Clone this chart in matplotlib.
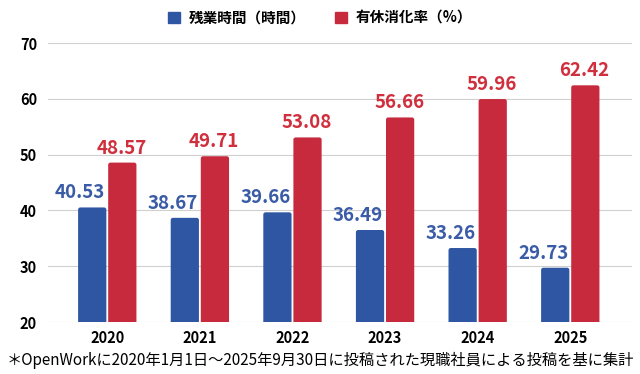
import numpy as np
import matplotlib.pyplot as plt
from matplotlib.patches import Patch, FancyBboxPatch

plt.rcParams['font.family'] = ['Noto Sans CJK JP', 'DejaVu Sans']

years = ['2020', '2021', '2022', '2023', '2024', '2025']
overtime = [40.53, 38.67, 39.66, 36.49, 33.26, 29.73]
paid_leave = [48.57, 49.71, 53.08, 56.66, 59.96, 62.42]
series_names = ['残業時間（時間）', '有休消化率（%）']
note = '＊OpenWorkに2020年1月1日〜2025年9月30日に投稿された現職社員による投稿を基に集計'

blue = '#2f56a3'
red = '#c72a3d'

fig = plt.figure(figsize=(6.4, 3.74), dpi=100)
ax = fig.add_axes([0.075, 0.139, 0.913, 0.746])

x = np.arange(len(years))
w = 0.305
bars = []
bars += list(ax.bar(x - w / 2 - 0.01, overtime, w, color=blue))
bars += list(ax.bar(x + w / 2 + 0.01, paid_leave, w, color=red))

# swap the plain rectangles for slightly rounded ones
for r in bars:
    fb = FancyBboxPatch((r.get_x(), r.get_y()), r.get_width(), r.get_height(),
                        boxstyle='round,pad=0,rounding_size=0.025',
                        mutation_aspect=16, facecolor=r.get_facecolor(),
                        edgecolor='none')
    r.remove()
    ax.add_patch(fb)

for xi, v in zip(x, overtime):
    ax.text(xi - w / 2 - 0.14, v + 0.9, f'{v:.2f}', ha='center', va='bottom',
            color='#3a5ca6', fontsize=13.5, fontweight='bold')
for xi, v in zip(x, paid_leave):
    ax.text(xi + w / 2, v + 0.9, f'{v:.2f}', ha='center', va='bottom',
            color='#d0303e', fontsize=13.5, fontweight='bold')

ax.set_ylim(20, 70)
ax.set_xlim(-0.64, 5.67)
ax.set_yticks(range(20, 71, 10))
ax.set_xticks(x)
ax.set_xticklabels(years, fontweight='bold', fontsize=10.5)
ax.tick_params(axis='y', labelsize=10.5, length=0, pad=8)
ax.tick_params(axis='x', length=0, pad=6)
for lab in ax.get_yticklabels():
    lab.set_fontweight('bold')
ax.grid(axis='y', color='#d0d0d0', linewidth=0.8)
ax.set_axisbelow(True)
for s in ax.spines.values():
    s.set_visible(False)

handles = [Patch(color=blue), Patch(color=red)]
fig.legend(handles, series_names, loc='upper center', bbox_to_anchor=(0.5, 1.01),
           ncol=2, frameon=False, handlelength=0.8, handleheight=0.8,
           columnspacing=2.0, handletextpad=0.6, prop={'weight': 'bold', 'size': 10.5})

fig.text(0.5, 0.035, note, ha='center', va='center', fontsize=11)

fig.savefig('out.png', dpi=100)
